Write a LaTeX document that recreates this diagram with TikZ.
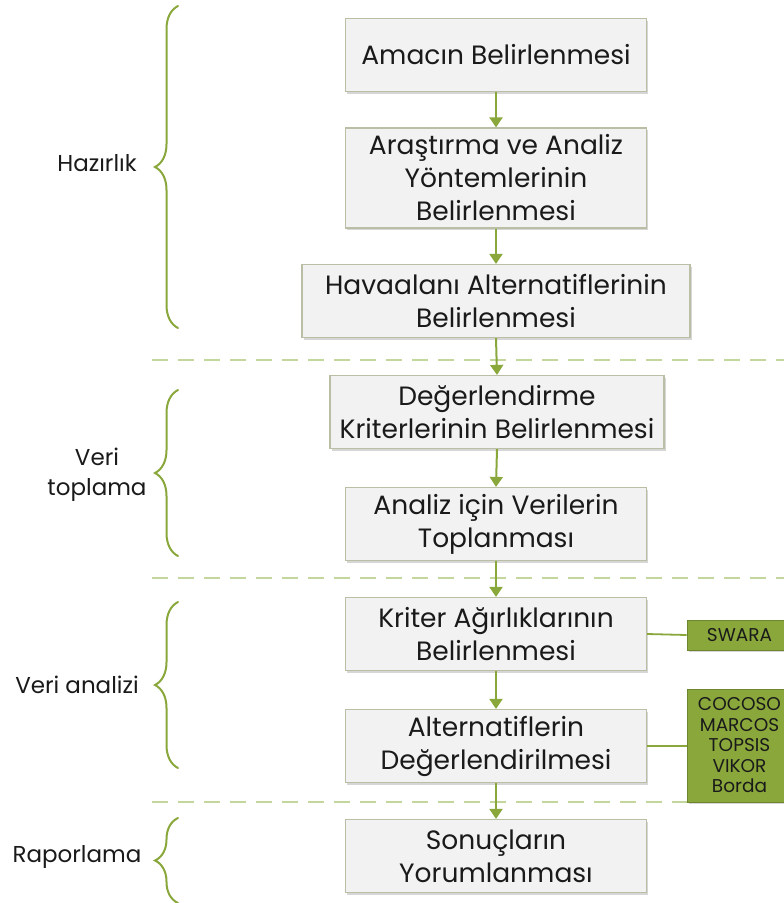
\documentclass[tikz,border=0pt]{standalone}
\usepackage{fontspec}
\setmainfont{Poppins}
\usepackage{xcolor}
\usetikzlibrary{arrows.meta,decorations.pathreplacing,shadows}

\definecolor{leafgreen}{HTML}{8AA73B}
\definecolor{palegreen}{HTML}{C3D69B}
\definecolor{boxfill}{HTML}{F2F2F2}
\definecolor{boxline}{HTML}{BABEA4}
\definecolor{textgray}{HTML}{1A1A1A}

\begin{document}
\begin{tikzpicture}[x=1pt,y=-1pt,
  stepbox/.style={draw=boxline,fill=boxfill,line width=1.2pt,align=center,
    minimum width=301pt,minimum height=73pt,inner sep=2pt,text=textgray,
    font=\fontsize{26.5}{33}\selectfont,
    drop shadow={shadow xshift=1.5pt,shadow yshift=-2pt,fill=black!40,opacity=0.4}},
  methodbox/.style={draw=leafgreen!80!black,fill=leafgreen,line width=0.8pt,align=center,
    minimum width=105pt,inner sep=2pt,text=textgray,font=\fontsize{18.5}{20.5}\selectfont,
    drop shadow={shadow xshift=1.5pt,shadow yshift=-2pt,fill=black!40,opacity=0.4}},
  flow/.style={draw=leafgreen,line width=2pt,-{Triangle[length=10pt,width=13pt]}},
  link/.style={draw=leafgreen,line width=1.8pt},
  phasebrace/.style={draw=leafgreen,line width=2pt,line cap=round,
    decorate,decoration={brace,amplitude=23pt,aspect=0.5}},
  phaselabel/.style={align=center,text=textgray,font=\fontsize{23}{30}\selectfont},
  divider/.style={draw=palegreen,line width=2pt,dash pattern=on 16pt off 10pt}]

  \useasboundingbox (0,0) rectangle (784,903);

  % process steps
  \node[stepbox] (amac) at (496,55) {Amacın Belirlenmesi};
  \node[stepbox,minimum height=100pt] (yontem) at (496,178) {Araştırma ve Analiz\\Yöntemlerinin\\Belirlenmesi};
  \node[stepbox,minimum width=388pt] (alternatif) at (496,301) {Havaalanı Alternatiflerinin\\Belirlenmesi};
  \node[stepbox,minimum width=334pt] (kriter) at (497,412) {Değerlendirme\\Kriterlerinin Belirlenmesi};
  \node[stepbox] (toplama) at (496,524) {Analiz için Verilerin\\Toplanması};
  \node[stepbox] (agirlik) at (496,634) {Kriter Ağırlıklarının\\Belirlenmesi};
  \node[stepbox] (degerlendirme) at (496,746) {Alternatiflerin\\Değerlendirilmesi};
  \node[stepbox] (sonuc) at (496,856) {Sonuçların\\Yorumlanması};

  % phase dividers
  \draw[divider] (152,360) -- (784,360);
  \draw[divider] (152,578) -- (784,578);
  \draw[divider] (152,802) -- (784,802);

  \foreach \a/\b in {amac/yontem,yontem/alternatif,alternatif/kriter,kriter/toplama,
                     toplama/agirlik,agirlik/degerlendirme,degerlendirme/sonuc}
    \draw[flow] (\a.south) -- (\b.north);

  % methods
  \node[methodbox,minimum height=30pt] (swara) at (739.5,635) {SWARA};
  \node[methodbox,minimum height=113pt] (yontemler) at (739.5,745.5) {COCOSO\\MARCOS\\TOPSIS\\VIKOR\\Borda};
  \draw[link] (agirlik.east) -- (swara.west);
  \draw[link] (degerlendirme.east) -- (degerlendirme.east -| yontemler.west);

  % phases
  \draw[phasebrace] (178,328) -- (178,6);
  \draw[phasebrace] (178,556) -- (178,390);
  \draw[phasebrace] (178,768) -- (178,602);
  \draw[phasebrace] (178,903) -- (178,818);
  \node[phaselabel] (hazirlik) at (97,163) {Hazırlık};
  \node[phaselabel] (veritoplama) at (97,475) {Veri\\toplama};
  \node[phaselabel] (verianalizi) at (77,685) {Veri analizi};
  \node[phaselabel] (raporlama) at (77,857) {Raporlama};
\end{tikzpicture}
\end{document}
